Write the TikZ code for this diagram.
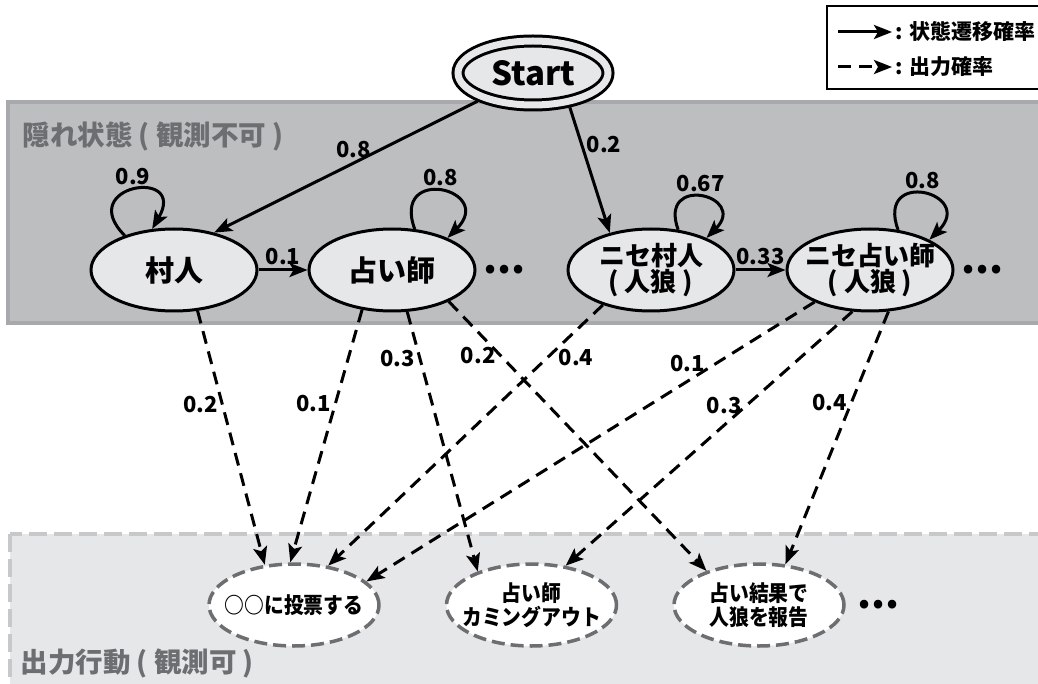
\documentclass[tikz,border=0pt]{standalone}
\usepackage{fontspec}
\setmainfont{Noto Sans CJK JP}
\newfontfamily\narrowfont{Noto Sans CJK JP}[FakeStretch=0.9]
\usetikzlibrary{arrows.meta, positioning, shapes.geometric}
\definecolor{hiddengray}{HTML}{BCBEC0}
\definecolor{hiddenline}{HTML}{A7A9AC}
\definecolor{nodegray}{HTML}{E6E7E8}
\definecolor{labelgray}{HTML}{6D6E71}
\definecolor{obsline}{HTML}{C7C8CA}

\begin{document}
\begin{tikzpicture}[x=1pt, y=1pt, >={Stealth[length=18pt, width=14pt, inset=4pt]},
	font=\fontsize{22}{24}\selectfont\bfseries,
	state/.style={ellipse, draw, line width=3pt, fill=nodegray, minimum width=166pt, minimum height=82pt, inner ysep=0pt, inner xsep=-8pt, align=center, font=\fontsize{29}{30}\selectfont\bfseries},
	startstate/.style={ellipse, draw, line width=3pt, double=nodegray, double distance=7pt, fill=nodegray, minimum width=150pt, minimum height=64pt, outer sep=6.5pt, font=\fontsize{33}{33}\selectfont\bfseries},
	wolf/.style={font=\fontsize{26}{26}\selectfont\bfseries},
	obs/.style={ellipse, draw=labelgray, line width=3.5pt, dash pattern=on 13pt off 6pt, fill=white, minimum width=170pt, minimum height=82pt, inner ysep=0pt, inner xsep=-13pt, align=center, font=\narrowfont\fontsize{22}{24}\selectfont\bfseries},
	more/.style={font=\fontsize{40}{40}\selectfont\bfseries},
	area/.style={anchor=west, text=labelgray, font=\fontsize{27.5}{28}\selectfont\bfseries},
	trans/.style={->, line width=3pt},
	emit/.style={->, line width=3pt, dash pattern=on 13pt off 8pt}]

	\useasboundingbox (0,0) rectangle (1038,-684);

	\filldraw[fill=hiddengray, draw=hiddenline, line width=4pt] (8,-102) rectangle (1050,-323);
	\filldraw[fill=nodegray, draw=obsline, line width=4pt, dash pattern=on 18pt off 7pt] (10,-534) rectangle (1050,-700);
	\node[area] (hiddenlabel) at (19,-136) {隠れ状態 ( 観測不可 )};
	\node[area] (obslabel) at (17,-663) {出力行動 ( 観測可 )};

	\draw[line width=2pt] (827,-6) rectangle (1050,-89);
	\coordinate (legtrans0) at (838,-32);
	\coordinate (legemit0) at (838,-67);
	\node[anchor=west, font=\fontsize{21}{21}\selectfont\bfseries] (legtrans) at (892,-32) {: 状態遷移確率};
	\node[anchor=west, font=\fontsize{21}{21}\selectfont\bfseries] (legemit) at (892,-67) {: 出力確率};
	\draw[trans] (legtrans0) -- (legtrans);
	\draw[emit] (legemit0) -- (legemit);

	\node[startstate] (start) at (533,-73) {Start};
	\node[state] (cun) at (174,-270) {村人};
	\node[state, right=49pt of cun] (uranai) {占い師};
	\node[state, wolf, right=90pt of uranai] (nisecun) {ニセ村人\\( 人狼 )};
	\node[state, wolf, right=50pt of nisecun] (niseuranai) {ニセ占い師\\( 人狼 )};
	\node[more, right=3pt of uranai] (more1) {...};
	\node[more, right=3pt of niseuranai] (more2) {...};

	\node[obs] (touhyou) at (294,-605) {○○に投票する};
	\node[obs, right=64pt of touhyou] (co) {占い師\\カミングアウト};
	\node[obs, right=54pt of co] (houkoku) {占い結果で\\人狼を報告};
	\node[more, right=8pt of houkoku] (more3) {...};

	\path[trans]
	(start.-153) edge node[pos=0.47, above] {0.8} (cun.43)
	(start.-43) edge node[pos=0.3, right] {0.2} (nisecun.138)
	(cun) edge node[above] {0.1} (uranai)
	(nisecun) edge node[above] {0.33} (niseuranai)
	(cun.145) edge[out=135, in=60, looseness=6.5] node[above] {0.9} (cun.118)
	(uranai.61) edge[out=110, in=45, looseness=5.2] node[above] {0.8} (uranai.30)
	(nisecun.56) edge[out=110, in=45, looseness=5.2] node[above] {0.67} (nisecun.30)
	(niseuranai.55) edge[out=110, in=45, looseness=5.2] node[above] {0.8} (niseuranai.27);

	\path[emit]
	(cun.-60) edge node[pos=0.37, left] {0.2} (touhyou.126)
	(uranai.-127) edge node[pos=0.37, left] {0.1} (touhyou.95)
	(uranai.-70) edge node[pos=0.18, left] {0.3} (co.148)
	(uranai.-29) edge node[pos=0.2, left] {0.2} (houkoku.147)
	(nisecun.-144) edge node[pos=0.2, right=6pt] {0.4} (touhyou.49)
	(niseuranai.-150) edge node[pos=0.22, left=6pt] {0.1} (touhyou.18)
	(niseuranai.-113) edge node[pos=0.37, left] {0.3} (co.49)
	(niseuranai.-66) edge node[pos=0.36, left] {0.4} (houkoku.57);

\end{tikzpicture}
\end{document}
